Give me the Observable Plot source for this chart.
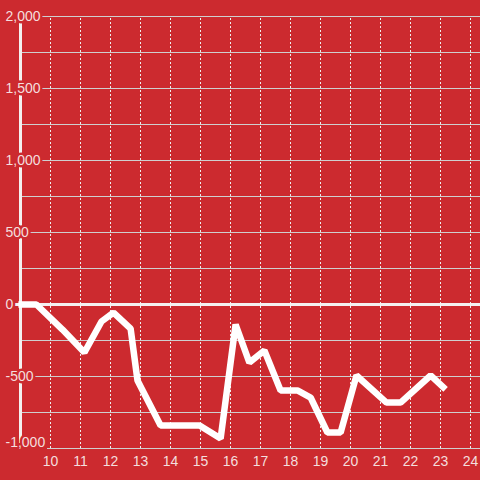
<!DOCTYPE html>
<html>
<head>
<meta charset="utf-8">
<script src="https://cdn.jsdelivr.net/npm/d3@7"></script>
<script src="https://cdn.jsdelivr.net/npm/@observablehq/plot@0.6"></script>
<style>
  html, body { margin: 0; padding: 0; background: #cc2a2f; }
</style>
</head>
<body>
<div id="chart"></div>
<script>
// Series
const xs = [8.93, 9.53, 10.4, 11.13, 11.7, 12.1, 12.67, 12.9, 13.67, 14.97, 15.67, 16.17, 16.63, 17.13, 17.67, 18.23, 18.67, 19.23, 19.67, 20.2, 21.2, 21.67, 22.67, 23.17];
const ys = [0, 0, -174, -333, -118, -56, -167, -528, -840, -840, -931, -139, -403, -319, -597, -597, -646, -889, -889, -493, -681, -681, -493, -590];

// Axis ticks
const xTicks = [10, 11, 12, 13, 14, 15, 16, 17, 18, 19, 20, 21, 22, 23, 24];
const yTicks = [2000, 1500, 1000, 500, 0, -500, -1000];
const yGrid = [2000, 1750, 1500, 1250, 1000, 750, 500, 250, -250, -500, -750];

const bg = "#cc2a2f";
const labelColor = "#f4dede";
const fmt = d => d3.format(",")(d).replace("\u2212", "-");

const data = xs.map((x, i) => ({x, y: ys[i]}));

const chart = Plot.plot({
  width: 480,
  height: 480,
  marginLeft: 50,
  marginRight: 10,
  marginTop: 16,
  marginBottom: 32,
  x: {domain: [10, 24], axis: null},
  y: {domain: [-1000, 2000], axis: null},
  style: {background: bg, fontFamily: "'Liberation Sans', Arial, sans-serif", fontSize: "14px"},
  marks: [
    Plot.ruleY(yGrid, {y: d => d, x1: 9, x2: 24.34, stroke: "#cfcfcf", strokeWidth: 1}),
    Plot.ruleY([-1000], {y: d => d, x1: 9.9, x2: 24.34, stroke: "#cfcfcf", strokeWidth: 1}),
    Plot.ruleX(xTicks, {x: d => d, y1: -1000, y2: 2000, stroke: "#eeeeee", strokeDasharray: "2,2", strokeWidth: 1}),
    Plot.ruleX([9], {x: d => d, y1: -1000, y2: 2000, stroke: "#f4f0f0", strokeWidth: 3}),
    Plot.ruleY([0], {y: d => d, x1: 8.5, x2: 24.34, stroke: "#f4f0f0", strokeWidth: 3}),
    Plot.line(data, {x: "x", y: "y", stroke: "#ffffff", strokeWidth: 6.5, strokeLinejoin: "bevel", strokeLinecap: "butt"}),
    Plot.text(yTicks.filter(d => d !== -1000), {x: 8.5, y: d => d, text: d => fmt(d), textAnchor: "start", fill: labelColor, stroke: bg, strokeWidth: 5, fontSize: 14}),
    Plot.text(yTicks.filter(d => d === -1000), {x: 8.5, y: d => d, dy: -6, text: d => fmt(d), textAnchor: "start", fill: labelColor, stroke: bg, strokeWidth: 5, fontSize: 14}),
    Plot.text(xTicks, {x: d => d, y: -1000, dy: 13, text: d => String(d), textAnchor: "middle", fill: labelColor, fontSize: 14})
  ]
});
document.getElementById("chart").appendChild(chart);
</script>
</body>
</html>
